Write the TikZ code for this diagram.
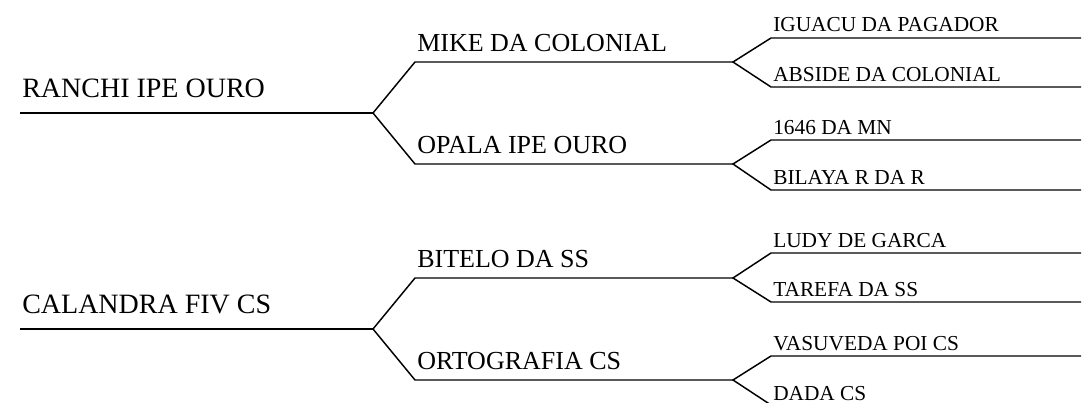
\documentclass[tikz,border=0pt]{standalone}
\usepackage{fontspec}
\setmainfont{Liberation Serif}
\usetikzlibrary{positioning}

\begin{document}
\begin{tikzpicture}[x=0.75pt,y=-0.75pt,
        line/.style={black,line width=1.1pt},
        sire/.style={anchor=base west,inner sep=0pt,font=\fontsize{21}{24}\selectfont},
        parent/.style={anchor=base west,inner sep=0pt,font=\fontsize{19.5}{22}\selectfont},
        grand/.style={anchor=base west,inner sep=0pt,text depth=0pt,font=\fontsize{16}{19}\selectfont}]
    \useasboundingbox (0,0) rectangle (1083,403);

    % first pedigree
    \coordinate (r0) at (20,113);     \coordinate (r) at (373,113);
    \coordinate (m0) at (415,62);     \coordinate (m) at (733,62);
    \coordinate (o0) at (415,164);    \coordinate (o) at (733,164);
    \coordinate (ig0) at (771,38);    \coordinate (ig) at (1081,38);
    \coordinate (ab0) at (771,87);    \coordinate (ab) at (1081,87);
    \coordinate (mn0) at (771,140);   \coordinate (mn) at (1081,140);
    \coordinate (bi0) at (771,190);   \coordinate (bi) at (1081,190);

    \draw [line] (r0) -- (r);
    \draw [line] (m) -- (m0) -- (r) -- (o0) -- (o);
    \draw [line] (ig) -- (ig0) -- (m) -- (ab0) -- (ab);
    \draw [line] (mn) -- (mn0) -- (o) -- (bi0) -- (bi);

    \node [sire] (ranchi) at ([shift={(2,-15.5)}]r0) {RANCHI IPE OURO};
    \node [parent] (mike) at ([shift={(2,-10.5)}]m0) {MIKE DA COLONIAL};
    \node [parent] (opala) at ([shift={(2,-10.5)}]o0) {OPALA IPE OURO};
    \node [grand] (iguacu) at ([shift={(2,-6)}]ig0) {IGUACU DA PAGADOR};
    \node [grand] (abside) at ([shift={(2,-5.5)}]ab0) {ABSIDE DA COLONIAL};
    \node [grand] (dam) at ([shift={(2,-5.5)}]mn0) {1646 DA MN};
    \node [grand] (bilaya) at ([shift={(2,-5.5)}]bi0) {BILAYA R DA R};

    % second pedigree
    \coordinate (c0) at (20,329);     \coordinate (c) at (373,329);
    \coordinate (b0) at (415,278);    \coordinate (b) at (733,278);
    \coordinate (t0) at (415,380);    \coordinate (t) at (733,380);
    \coordinate (lu0) at (771,253);   \coordinate (lu) at (1081,253);
    \coordinate (ta0) at (771,302);   \coordinate (ta) at (1081,302);
    \coordinate (va0) at (771,356);   \coordinate (va) at (1081,356);
    \coordinate (da0) at (771,405);   \coordinate (da) at (1081,405);

    \draw [line] (c0) -- (c);
    \draw [line] (b) -- (b0) -- (c) -- (t0) -- (t);
    \draw [line] (lu) -- (lu0) -- (b) -- (ta0) -- (ta);
    \draw [line] (va) -- (va0) -- (t) -- (da0) -- (da);

    \node [sire] (calandra) at ([shift={(2,-15.5)}]c0) {CALANDRA FIV CS};
    \node [parent] (bitelo) at ([shift={(2,-10.5)}]b0) {BITELO DA SS};
    \node [parent] (ortografia) at ([shift={(2,-10.5)}]t0) {ORTOGRAFIA CS};
    \node [grand] (ludy) at ([shift={(2,-5.5)}]lu0) {LUDY DE GARCA};
    \node [grand] (tarefa) at ([shift={(2,-5.5)}]ta0) {TAREFA DA SS};
    \node [grand] (vasuveda) at ([shift={(2,-5.5)}]va0) {VASUVEDA POI CS};
    \node [grand] (dada) at ([shift={(2,-4.5)}]da0) {DADA CS};
\end{tikzpicture}
\end{document}
